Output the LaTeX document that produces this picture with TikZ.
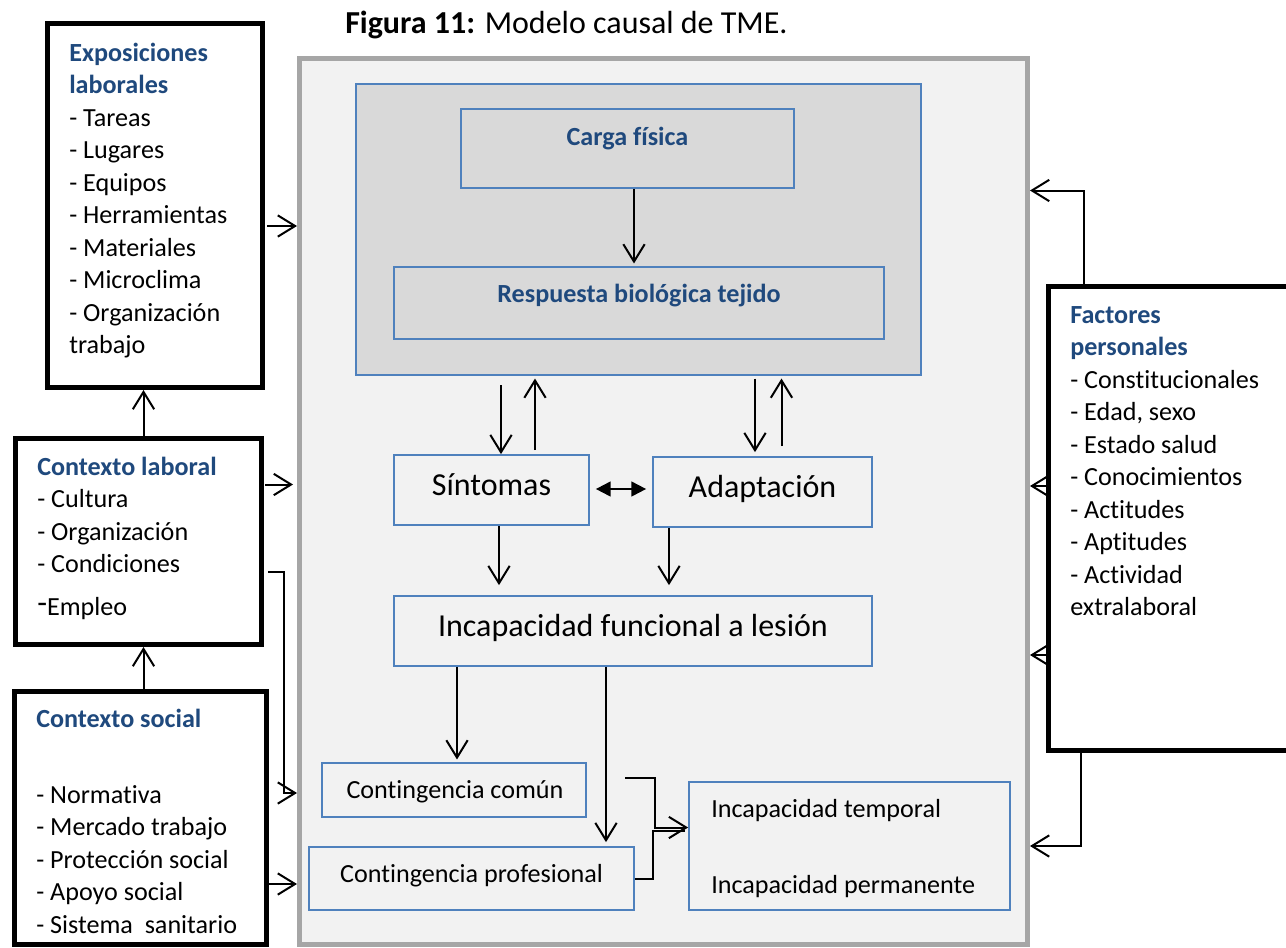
\documentclass[tikz,border=0pt]{standalone}
\usepackage{fontspec}
\setmainfont{Carlito}[Ligatures=CommonOff]
\usetikzlibrary{arrows.meta,fit}

\definecolor{titleblue}{HTML}{1F497D}
\definecolor{boxblue}{HTML}{4F81BD}
\definecolor{panelgray}{HTML}{F2F2F2}
\definecolor{paneledge}{HTML}{A6A6A6}
\definecolor{coregray}{HTML}{D9D9D9}

\newcommand{\fnorm}{\fontsize{19.6}{24.4}\selectfont}
\newcommand{\fbig}{\fontsize{24}{29}\selectfont}
\newcommand{\hd}[1]{\textcolor{titleblue}{\bfseries #1}}

\tikzset{
  x=0.75pt, y=-0.75pt,
  panel/.style={draw=paneledge, fill=panelgray, line width=3.75pt, inner sep=0pt},
  core/.style={draw=boxblue, fill=coregray, line width=1.3pt, inner sep=0pt},
  bluebox/.style={draw=boxblue, fill=panelgray, line width=1.3pt, inner sep=0pt},
  heavybox/.style={draw=black, fill=white, line width=3.75pt, inner sep=0pt},
  txt/.style={inner sep=0pt, font=\fnorm},
  bigtxt/.style={inner sep=0pt, font=\fbig},
  hdtxt/.style={inner sep=0pt, font={\fnorm\bfseries}, text=titleblue},
  link/.style={line width=1.5pt},
  arr/.style={line width=1.5pt, -{Straight Barb[length=13pt, width=16pt]}},
  dbl/.style={line width=1.5pt, {Triangle[length=11pt, width=11pt]}-{Triangle[length=11pt, width=11pt]}}
}

\begin{document}
\begin{tikzpicture}
\useasboundingbox (0,0) rectangle (1286,947);

% caption
\node[bigtxt, anchor=base west] (title) at (345,33) {\textbf{Figura 11:} Modelo causal de TME.};

% central panel and its boxes
\node[panel, fit={(299.5,58) (1027.5,944.5)}] (panel) {};
\node[core, fit={(356,84) (921,375)}] (core) {};
\node[bluebox, fill=coregray, fit={(461,109) (794,188)}] (carga) {};
\node[hdtxt, anchor=base] (cargatxt) at (627.5,145) {Carga física};
\node[bluebox, fill=coregray, fit={(394,267) (884,339)}] (resp) {};
\node[hdtxt, anchor=base] (resptxt) at (639,302) {Respuesta biológica tejido};

\node[bluebox, fit={(394,455) (589,525)}] (sint) {};
\node[bigtxt, anchor=base] (sinttxt) at (491.5,495) {Síntomas};
\node[bluebox, fit={(653,457) (872,527)}] (adap) {};
\node[bigtxt, anchor=base] (adaptxt) at (762.5,497) {Adaptación};
\node[bluebox, fit={(394,596) (872,666)}] (func) {};
\node[bigtxt, anchor=base] (functxt) at (633,636) {Incapacidad funcional a lesión};

\node[bluebox, fit={(322,763) (586,817)}] (comun) {};
\node[txt, anchor=base] (comuntxt) at (455,798) {Contingencia común};
\node[bluebox, fit={(309,847) (634,910)}] (prof) {};
\node[txt, anchor=base] (proftxt) at (471.5,882) {Contingencia profesional};
\node[bluebox, fit={(689,782) (1010,910)}] (incap) {};
\node[txt, anchor=base west] (temptxt) at (711,817) {Incapacidad temporal};
\node[txt, anchor=base west] (permtxt) at (711,893) {Incapacidad permanente};

% left-hand context boxes
\node[heavybox, fit={(47.5,23.5) (262,387.5)}] (expo) {};
\node[txt, anchor=base west] (expotxt) at (69,61) {\parbox[t]{200pt}{%
  \hd{Exposiciones}\\
  \hd{laborales}\\
  - Tareas\\
  - Lugares\\
  - Equipos\\
  - Herramientas\\
  - Materiales\\
  - Microclima\\
  - Organización\\
  trabajo}};

\node[heavybox, fit={(15.5,438) (261.5,644.5)}] (lab) {};
\node[txt, anchor=base west] (labtxt) at (37,475) {\parbox[t]{200pt}{%
  \hd{Contexto laboral}\\
  - Cultura\\
  - Organización\\
  - Condiciones\\[8pt]
  {\fontsize{24}{24}\selectfont\raisebox{2pt}{-}}Empleo}};

\node[heavybox, fit={(14,691.5) (266.5,944.5)}] (soc) {};
\node[txt, anchor=base west] (soctxt) at (36,727.6) {\parbox[t]{200pt}{%
  \hd{Contexto social}\\[32.2pt]
  - Normativa\\
  - Mercado trabajo\\
  - Protección social\\
  - Apoyo social\\
  - Sistema\ \ sanitario}};

% personal factors box
\node[heavybox, fit={(1048,286.5) (1310,750.5)}] (fact) {};
\node[txt, anchor=base west] (facttxt) at (1070,323) {\parbox[t]{200pt}{%
  \hd{Factores}\\
  \hd{personales}\\
  - Constitucionales\\
  - Edad, sexo\\
  - Estado salud\\
  - Conocimientos\\
  - Actitudes\\
  - Aptitudes\\
  - Actividad\\
  extralaboral}};

% connectors on the left
\draw[arr] ([xshift=2pt]expo.east |- 0,226) -- (panel.west |- 0,226);
\draw[arr] ([xshift=1pt]lab.east |- 0,484.5) -- ([xshift=-3pt]panel.west |- 0,484.5);
\draw[arr] ([xshift=3pt]lab.east |- 0,572) -| (284,793) -- (panel.west |- 0,793);
\draw[arr] (soc.east |- 0,884) -- (panel.west |- 0,884);
\draw[arr] (soc.north -| 143.5,0) -- (lab.south -| 143.5,0);
\draw[arr] (lab.north -| 143.5,0) -- (expo.south -| 143.5,0);

% connectors inside the panel
\draw[arr, shorten >=2pt] (carga.south -| 634,0) -- (resp.north -| 634,0);
\draw[arr, shorten <=7pt] (core.south -| 501,0) -- (sint.north -| 501,0);
\draw[arr, shorten <=3pt, shorten >=2pt] (sint.north -| 535,0) -- (core.south -| 535,0);
\draw[arr, shorten <=2pt, shorten >=3pt] (core.south -| 755,0) -- (adap.north -| 755,0);
\draw[arr, shorten <=7.5pt, shorten >=2pt] (adap.north -| 781.5,0) -- (core.south -| 781.5,0);
\draw[dbl, shorten <=4.5pt, shorten >=4.5pt] (sint.east |- 0,489) -- (adap.west |- 0,489);
\draw[arr, shorten >=7.5pt] (sint.south -| 499,0) -- (func.north -| 499,0);
\draw[arr, shorten >=7.5pt] (adap.south -| 669,0) -- (func.north -| 669,0);
\draw[arr, shorten >=2pt] (func.south -| 457,0) -- (comun.north -| 457,0);
\draw[arr, shorten >=3pt] (func.south -| 606,0) -- (prof.north -| 606,0);

\coordinate (comunout) at (625,777.5);
\draw[arr] (comunout) -| (654.5,827.5) -- (incap.west |- 0,827.5);
\draw[link] (prof.east |- 0,879) -| (653,830.5) -- ([xshift=-2pt]incap.west |- 0,830.5);

% connectors from the personal factors
\draw[arr] (fact.north -| 1084,0) |- (panel.east |- 0,190.5);
\draw[arr] (fact.west |- 0,486) -- (panel.east |- 0,486);
\draw[arr] (fact.west |- 0,655) -- (panel.east |- 0,655);
\draw[arr] (fact.south -| 1081,0) |- (panel.east |- 0,846);
\end{tikzpicture}
\end{document}
